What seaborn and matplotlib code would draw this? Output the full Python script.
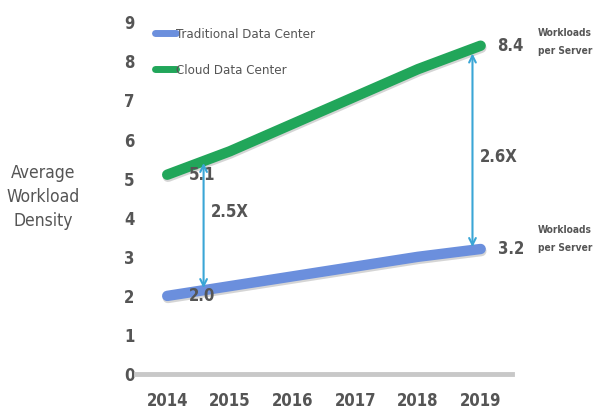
import matplotlib
matplotlib.use("Agg")
import matplotlib.pyplot as plt
import matplotlib.patheffects as pe
import seaborn as sns
import pandas as pd

years = [2014, 2015, 2016, 2017, 2018, 2019]
traditional = [2.0, 2.25, 2.5, 2.75, 3.0, 3.2]
cloud = [5.1, 5.7, 6.4, 7.1, 7.8, 8.4]
series_names = ["Traditional Data Center", "Cloud Data Center"]
yticks = [0, 1, 2, 3, 4, 5, 6, 7, 8, 9]

# gap arrows: x position, low end, high end, ratio label
gap_x = [2014.58, 2018.87]
gap_low = [2.2, 3.25]
gap_high = [5.4, 8.2]
gap_labels = ["2.5X", "2.6X"]
gap_label_y = [4.15, 5.55]

sns.set_theme(style="white")
plt.rcParams["font.family"] = ["DejaVu Sans"]
plt.rcParams["font.stretch"] = "condensed"

text_color = "#555555"
colors = {"Traditional Data Center": "#6b8fdd", "Cloud Data Center": "#21a65a"}
arrow_color = "#3aa6d6"

df = pd.DataFrame({
    "Year": years * 2,
    "Value": traditional + cloud,
    "Series": [series_names[0]] * len(years) + [series_names[1]] * len(years),
})

fig = plt.figure(figsize=(5.96, 4.12), dpi=100)
ax = fig.add_axes([0.228, 0.092, 0.631, 0.892])

sns.lineplot(data=df, x="Year", y="Value", hue="Series", palette=colors,
             linewidth=7.5, ax=ax, solid_capstyle="round", legend=True)
for line in ax.get_lines():
    line.set_path_effects([pe.SimpleLineShadow(offset=(0.5, -1.5), alpha=0.18),
                           pe.Normal()])

ax.set_xlim(2013.5, 2019.5)
ax.set_ylim(0, 9.4)
ax.set_xticks(years)
ax.set_xticklabels([str(y) for y in years])
ax.set_yticks(yticks)
ax.set_xlabel("")
ax.set_ylabel("")
for s in ["top", "right", "left"]:
    ax.spines[s].set_visible(False)
ax.spines["bottom"].set_color("#c8c8c8")
ax.spines["bottom"].set_linewidth(3.5)
ax.tick_params(axis="both", length=0, labelsize=12, colors=text_color)
ax.tick_params(axis="x", pad=13)
ax.tick_params(axis="y", pad=1)
for lab in ax.get_xticklabels() + ax.get_yticklabels():
    lab.set_fontweight("bold")
    lab.set_color(text_color)

# legend at top left
handles, labels = ax.get_legend_handles_labels()
leg = ax.legend(handles, labels, loc="upper left", bbox_to_anchor=(0.02, 0.975),
                frameon=False, handlelength=1.6, handletextpad=0.0,
                labelspacing=1.75, fontsize=9.5)
for t in leg.get_texts():
    t.set_color(text_color)
for h in leg.get_lines():
    h.set_linewidth(5)
    h.set_path_effects([])

# value labels at the ends of both lines
label_style = dict(va="center", fontsize=12, fontweight="bold", color=text_color)
ax.text(years[0] + 0.35, cloud[0], f"{cloud[0]:.1f}", ha="left", **label_style)
ax.text(years[0] + 0.35, traditional[0], f"{traditional[0]:.1f}", ha="left", **label_style)
ax.text(years[-1] + 0.27, cloud[-1], f"{cloud[-1]:.1f}", ha="left", **label_style)
ax.text(years[-1] + 0.27, traditional[-1], f"{traditional[-1]:.1f}", ha="left", **label_style)

# gap arrows with ratio labels
for x, lo, hi, lab, ly in zip(gap_x, gap_low, gap_high, gap_labels, gap_label_y):
    ax.annotate("", xy=(x, hi), xytext=(x, lo),
                arrowprops=dict(arrowstyle="<->", color=arrow_color, lw=1.5,
                                mutation_scale=12, shrinkA=0, shrinkB=0))
    ax.text(x + 0.12, ly, lab, ha="left", **label_style)

# side notes and axis title
fig.text(0.903, 0.897, "Workloads\nper Server", ha="left", va="center",
         fontsize=7.3, fontweight="bold", color=text_color, linespacing=2.0)
fig.text(0.903, 0.42, "Workloads\nper Server", ha="left", va="center",
         fontsize=7.3, fontweight="bold", color=text_color, linespacing=2.0)
fig.text(0.072, 0.522, "Average\nWorkload\nDensity", ha="center", va="center",
         fontsize=12.5, color=text_color, linespacing=1.45)

fig.savefig("out.png", dpi=100)
